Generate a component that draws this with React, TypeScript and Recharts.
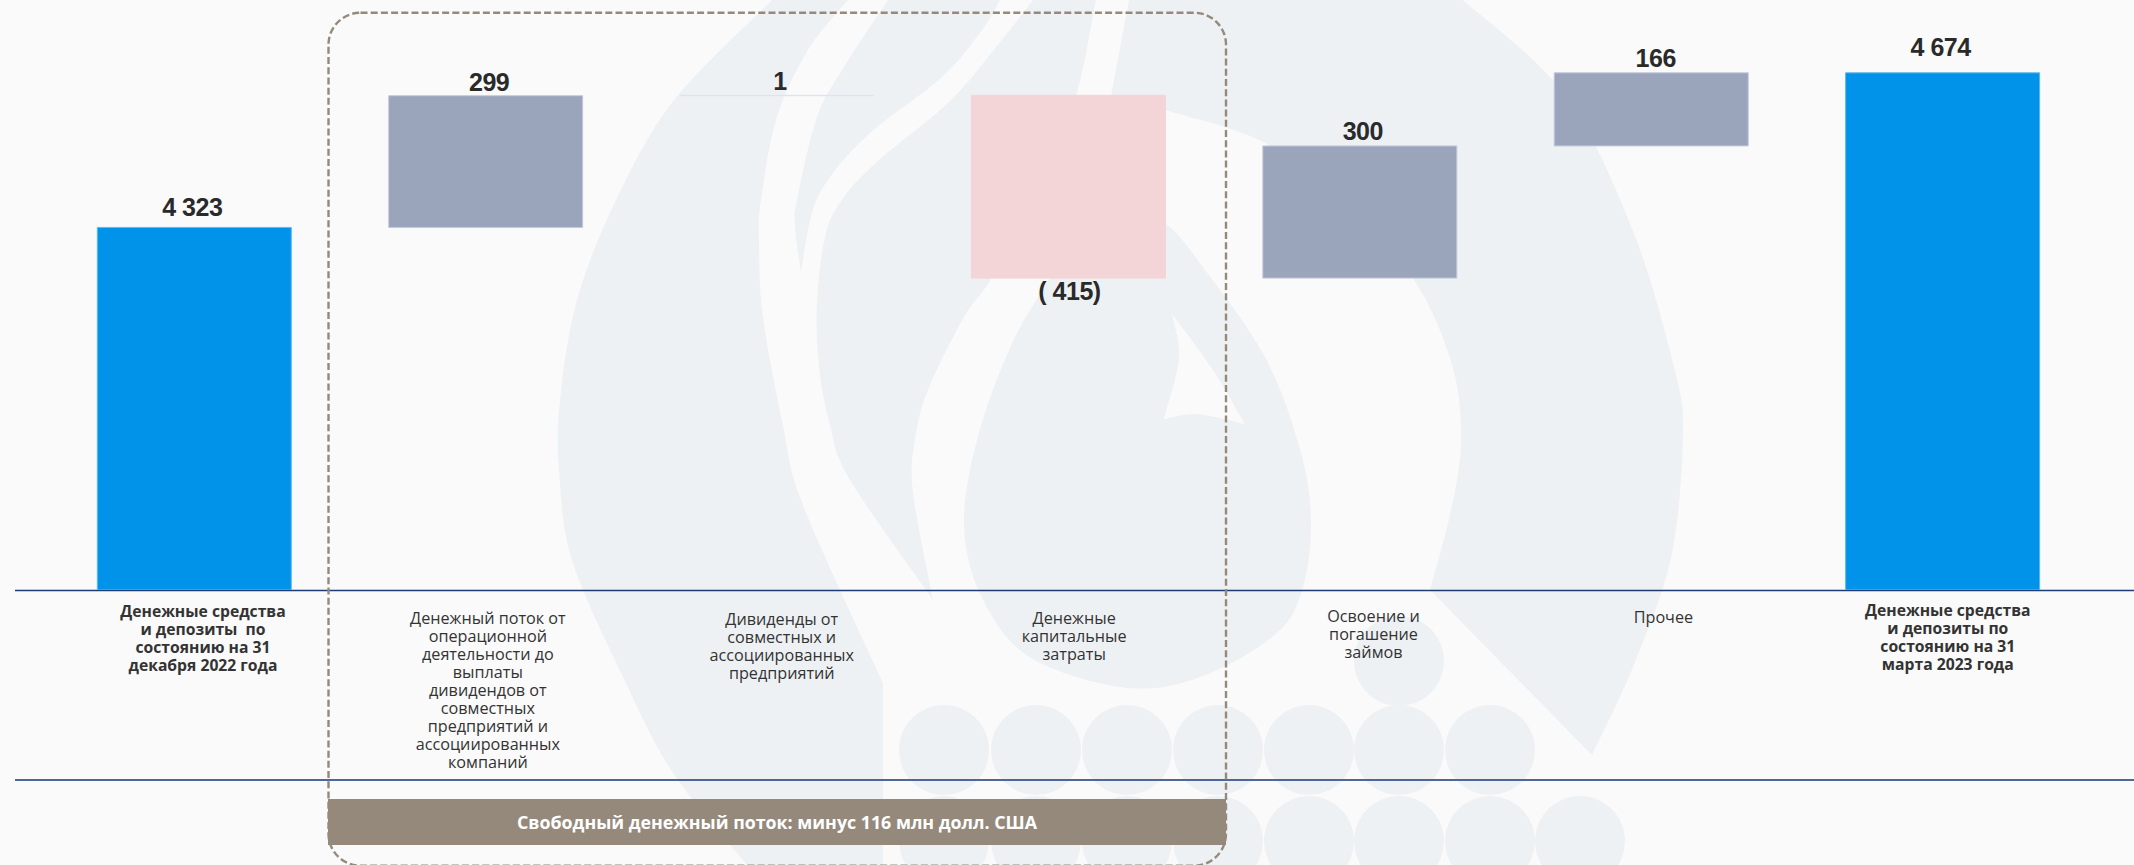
import { Bar, BarChart, Cell, LabelList, XAxis, YAxis } from "recharts";

const categories = [
  "Денежные средства\nи депозиты  по\nсостоянию на 31\nдекабря 2022 года",
  "Денежный поток от\nоперационной\nдеятельности до\nвыплаты\nдивидендов от\nсовместных\nпредприятий и\nассоциированных\nкомпаний",
  "Дивиденды от\nсовместных и\nассоциированных\nпредприятий",
  "Денежные\nкапитальные\nзатраты",
  "Освоение и\nпогашение\nзаймов",
  "Прочее",
  "Денежные средства\nи депозиты по\nсостоянию на 31\nмарта 2023 года",
];
const boldCategories = [0, 6];
const openingBalance = 4323;
const closingBalance = 4674;
const flows = [299, 1, -415, 300, 166];
const valueLabels = ["4 323", "299", "1", "( 415)", "300", "166", "4 674"];
const axisFloor = 3500;
const axisCeiling = 4837;
const footerText = "Свободный денежный поток: минус 116 млн долл. США";

const BLUE = "#0093E9";
const SLATE = "#9AA4BB";
const PINK = "#F4D5D7";
const TAUPE = "#95897B";
const WATERMARK = "#EEF1F4";
const PAGE = "#FAFAFA";

const barColors = [BLUE, SLATE, "#DFE3EC", PINK, SLATE, SLATE, BLUE];
const barEdges = ["#5FB8F0", "#C3CADA", "#DFE3EC", PINK, "#C3CADA", "#C3CADA", "#5FB8F0"];

// hand placement of the texts, they do not sit on the bar centres in the slide
const labelShiftX = [-2, 3.5, 3, 1, 3, 4.5, -2];
const labelShiftY = [-11, -5, -5, 22, -5.5, -5.4, -17];
const tickShiftX = [9, 2.5, 5, 6, 14, 12.5, 5.5];
const tickFirstLine = [21, 28, 29, 28, 25.5, 27, 19.5];

let running = openingBalance;
const waterfall = categories.map((name, i) => {
  if (i === 0) return { name, span: [axisFloor, openingBalance] };
  if (i === categories.length - 1) return { name, span: [axisFloor, closingBalance] };
  const from = running;
  running += flows[i - 1];
  return { name, span: [Math.min(from, running), Math.max(from, running)] };
});

function CategoryTick({ x, y, payload, index }: any) {
  const i = payload?.index ?? index;
  const lines = String(payload.value).split("\n");
  const bold = boldCategories.includes(i);
  return (
    <text
      x={x + tickShiftX[i]}
      y={y + tickFirstLine[i]}
      textAnchor="middle"
      dominantBaseline="central"
      fontFamily="'Open Sans', sans-serif"
      fontSize={bold ? 15.7 : 16.2}
      fontWeight={bold ? 700 : 400}
      fill="#333333"
    >
      {lines.map((line, n) => (
        <tspan key={n} x={x + tickShiftX[i]} dy={n === 0 ? 0 : 18} xmlSpace="preserve">
          {line}
        </tspan>
      ))}
    </text>
  );
}

function ValueLabel({ x, y, width, height, index }: any) {
  const top = Math.min(y, y + height);
  const bottom = Math.max(y, y + height);
  const anchorY = index === 3 ? bottom : top;
  return (
    <text
      x={x + width / 2 + labelShiftX[index]}
      y={anchorY + labelShiftY[index]}
      textAnchor="middle"
      fontFamily="'Liberation Sans', Arial, sans-serif"
      fontSize={25}
      letterSpacing={-0.5}
      fontWeight={700}
      fill="#2A2A2A"
    >
      {valueLabels[index]}
    </text>
  );
}

// catmull-rom chain through the given points
function chain(pts: number[][]) {
  let d = "";
  for (let i = 0; i < pts.length - 1; i++) {
    const p0 = pts[Math.max(i - 1, 0)];
    const p1 = pts[i];
    const p2 = pts[i + 1];
    const p3 = pts[Math.min(i + 2, pts.length - 1)];
    const c1x = p1[0] + (p2[0] - p0[0]) / 6;
    const c1y = p1[1] + (p2[1] - p0[1]) / 6;
    const c2x = p2[0] - (p3[0] - p1[0]) / 6;
    const c2y = p2[1] - (p3[1] - p1[1]) / 6;
    d += ` C${c1x} ${c1y} ${c2x} ${c2y} ${p2[0]} ${p2[1]}`;
  }
  return d;
}

function shape(...chains: number[][][]) {
  const start = chains[0][0];
  return `M${start[0]} ${start[1]}` + chains.map(chain).join("") + " Z";
}

const flameShapes = [
  shape(
    [[772, 0], [674, 100], [616, 200], [577, 300], [560, 400], [559, 470], [572, 560], [623, 677], [673, 773], [747, 865]],
    [[747, 865], [883, 865]],
    [[883, 865], [883, 683]],
    [[883, 683], [803, 505], [783, 425], [763, 317], [759, 240], [761, 200], [777, 117], [808, 50], [848, 0]],
  ),
  shape(
    [[888, 0], [844, 67], [817, 117], [797, 200], [795, 227], [801, 272]],
    [[801, 272], [812, 213], [830, 177], [870, 133], [942, 77], [982, 30], [1000, 0]],
  ),
  shape(
    [[1033, 0], [1004, 37], [951, 100], [879, 160], [844, 197], [826, 233], [817, 300], [819, 367], [830, 425], [850, 480], [933, 600]],
    [[933, 600], [913, 492], [915, 440], [928, 390], [964, 317], [991, 279], [1040, 190], [1076, 96], [1096, 0]],
  ),
  shape(
    [[1111, 190], [1047, 283], [1009, 350], [977, 440], [964, 525], [982, 598], [1031, 658], [1128, 688], [1203, 676], [1277, 633], [1303, 587], [1311, 520], [1300, 449], [1265, 357], [1200, 263], [1165, 223], [1111, 190]],
  ),
  shape(
    [[1129, 0], [1463, 0]],
    [[1463, 0], [1565, 95], [1633, 231], [1674, 367], [1683, 435], [1671, 558], [1633, 667], [1592, 755]],
    [[1592, 755], [1430, 590]],
    [[1430, 590], [1451, 510], [1461, 440], [1452, 365], [1414, 280], [1345, 205], [1265, 143], [1165, 110], [1111, 96]],
  ),
];
const flameNotch = shape(
  [[1172, 314], [1179, 358], [1164, 419]],
  [[1164, 419], [1196, 414], [1245, 424]],
  [[1245, 424], [1213, 370], [1172, 314]],
);
const dots = [
  [1399, 661],
  ...[944, 1036, 1127, 1218, 1309, 1399, 1490].map((cx) => [cx, 750]),
  ...[944, 1036, 1127, 1218, 1309, 1399, 1490, 1580].map((cx) => [cx, 841]),
];

function Backdrop() {
  return (
    <svg width={2134} height={865} style={{ position: "absolute", left: 0, top: 0 }}>
      {flameShapes.map((d, i) => (
        <path key={i} d={d} fill={WATERMARK} />
      ))}
      <path d={flameNotch} fill={PAGE} />
      {dots.map(([cx, cy], i) => (
        <circle key={i} cx={cx} cy={cy} r={45} fill={WATERMARK} />
      ))}
      <line x1={15} x2={2134} y1={590.5} y2={590.5} stroke="#1F3B73" strokeWidth={1.3} />
      <line x1={15} x2={2134} y1={780} y2={780} stroke="#4F6797" strokeWidth={2} />
      <rect x={328} y={799} width={898} height={46} fill={TAUPE} />
      <text
        x={777}
        y={822}
        textAnchor="middle"
        dominantBaseline="central"
        fontFamily="'Open Sans', sans-serif"
        fontSize={17.8}
        fontWeight={700}
        fill="#FFFFFF"
      >
        {footerText}
      </text>
      <rect x={328.5} y={12.7} width={897.5} height={853} rx={32} fill="none" stroke={TAUPE} strokeWidth={2.4} strokeDasharray="7 3.2" />
    </svg>
  );
}

export default function App() {
  return (
    <div style={{ position: "absolute", left: 0, top: 0, width: 2134, height: 865, background: PAGE, overflow: "hidden" }}>
      <Backdrop />
      <div style={{ position: "absolute", left: 0, top: 0 }}>
        <BarChart width={2134} height={865} data={waterfall} margin={{ top: 1, right: 46, left: 48.3, bottom: 10 }}>
          <XAxis dataKey="name" height={265} interval={0} axisLine={false} tickLine={false} tickSize={0} tickMargin={0} tick={CategoryTick} />
          <YAxis hide domain={[axisFloor, axisCeiling]} allowDataOverflow />
          <Bar dataKey="span" barSize={194} isAnimationActive={false}>
            {waterfall.map((_, i) => (
              <Cell key={i} fill={barColors[i]} stroke={barEdges[i]} strokeWidth={1} />
            ))}
            <LabelList dataKey="span" content={ValueLabel} />
          </Bar>
        </BarChart>
      </div>
    </div>
  );
}
